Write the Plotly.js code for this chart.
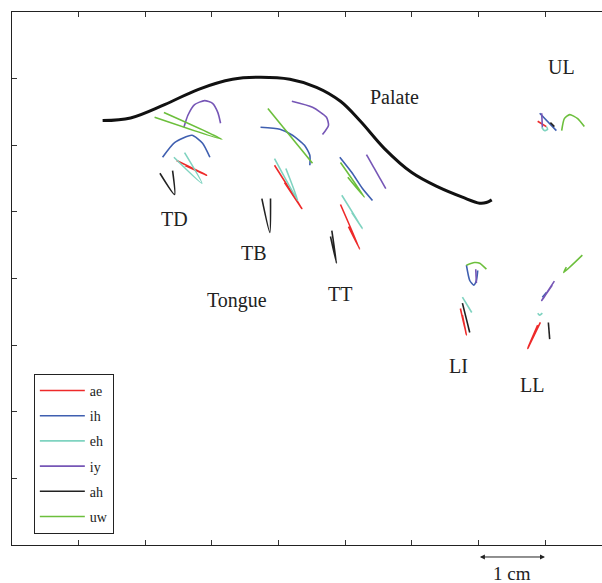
<!DOCTYPE html>
<html>
<head>
<meta charset="utf-8">
<script src="https://cdn.plot.ly/plotly-3.0.1.min.js"></script>
<style>html,body{margin:0;padding:0;background:#fff;overflow:hidden}</style>
</head>
<body>
<div id="chart" style="width:602px;height:583px"></div>
<script>
// Palate outline (cm)
const palateX = [1.36,1.78,2.29,2.80,3.31,3.71,4.17,4.57,4.93,5.23,5.59,6.00,6.40,6.76,7.02,7.12,7.20];
const palateY = [6.37,6.41,6.61,6.84,6.99,7.02,6.99,6.87,6.66,6.36,5.95,5.59,5.37,5.22,5.13,5.14,5.18];

// Vowel names and colours
const vowels = ["ae","ih","eh","iy","ah","uw"];
const vowelColors = ["#ee2a2a","#3f5fb0","#7fd3c0","#7656b6","#222222","#6cbf3c"];

// Sensor trajectories per vowel (order: TD, TB, TT, LI, LL, UL; null separates sensors)
const aeX = [2.47,2.92,2.59,null,3.94,4.35,4.09,null,4.93,5.22,5.05,null,6.73,6.82,6.76,null,7.89,7.74,7.93,null,7.89,8.02];
const aeY = [5.77,5.55,5.70,null,5.70,5.05,5.44,null,5.11,4.44,4.78,null,3.55,3.15,3.45,null,3.30,2.95,3.34,null,6.36,6.28];

const ihX = [2.26,2.44,2.70,2.86,2.97,null,3.73,4.02,4.21,4.39,4.47,4.47,null,4.92,5.10,5.26,5.41,null,6.82,6.87,6.93,6.97,6.99,null,7.96,8.02,null,7.92,8.17];
const ihY = [5.82,6.04,6.15,6.03,5.82,null,6.27,6.24,6.15,6.00,5.85,5.70,null,5.82,5.59,5.35,5.17,null,4.20,3.97,3.90,3.97,4.12,null,3.72,3.79,null,6.48,6.22];

const ehX = [2.43,2.85,2.59,null,3.94,4.29,4.11,null,4.95,5.26,5.10,null,6.76,6.90,null,7.89,7.92,7.96,null,7.95,7.99,8.04,8.02];
const ehY = [5.82,5.43,5.89,null,5.80,5.17,5.65,null,5.25,4.75,4.99,null,3.72,3.49,null,3.48,3.45,3.48,null,6.27,6.22,6.24,6.28];

const iyX = [2.58,2.64,2.74,2.89,3.01,3.09,3.13,null,4.20,4.51,4.72,4.75,4.66,null,5.32,5.61,null,6.96,6.97,null,8.14,7.95,8.11,null,7.95,7.96];
const iyY = [6.27,6.45,6.61,6.67,6.63,6.49,6.33,null,6.66,6.57,6.42,6.30,6.16,null,5.86,5.35,null,4.14,3.93,null,3.96,3.67,3.90,null,6.48,6.27];

const ahX = [2.22,2.44,2.41,null,3.75,3.87,3.88,null,4.80,4.87,4.78,null,6.76,6.87,null,8.05,8.07,null,8.08,8.14];
const ahY = [5.58,5.26,5.62,null,5.20,4.69,5.20,null,4.72,4.23,4.63,null,3.63,3.19,null,3.34,3.09,null,6.34,6.28];

const uwX = [2.14,3.15,2.28,null,3.84,4.51,null,4.93,5.29,5.04,null,6.82,6.94,7.02,7.12,null,8.56,8.28,8.32,null,8.25,8.29,8.37,8.49,8.59];
const uwY = [6.42,6.09,6.49,null,6.55,5.73,null,5.74,5.22,5.52,null,4.20,4.24,4.23,4.14,null,4.35,4.09,4.17,null,6.22,6.40,6.46,6.40,6.28];

// Region labels
const labelText = ["Palate","UL","TD","TB","Tongue","TT","LI","LL"];
const labelX = [5.74,8.25,2.44,3.63,3.37,4.92,6.70,7.81];
const labelY = [6.73,7.17,4.89,4.38,3.67,3.76,2.68,2.40];

// Axis ticks (cm)
const xTicks = [1,2,3,4,5,6,7,8];
const yTicks = [1,2,3,4,5,6,7];
// Scale bar (cm)
const scaleFrom = 7, scaleTo = 8, scaleText = "1 cm";

const seriesX = [aeX, ihX, ehX, iyX, ahX, uwX];
const seriesY = [aeY, ihY, ehY, iyY, ahY, uwY];

const traces = [{
  x: palateX, y: palateY, type: "scatter", mode: "lines",
  line: {color: "#111", width: 3, shape: "spline"}, showlegend: false, hoverinfo: "skip"
}];
vowels.forEach((v, i) => {
  traces.push({
    x: seriesX[i], y: seriesY[i], name: v, type: "scatter", mode: "lines",
    legendgroup: v,
    line: {color: vowelColors[i], width: 1.6, shape: "spline", smoothing: 0.6},
    connectgaps: false
  });
});

const serif = "Liberation Serif, Times New Roman, serif";
const annotations = labelText.map((t, i) => ({
  x: labelX[i], y: labelY[i], xref: "x", yref: "y", text: t, showarrow: false,
  font: {family: serif, size: 20, color: "#222"}
}));
annotations.push({
  x: scaleTo, y: -0.0225, xref: "x", yref: "paper",
  ax: scaleFrom, ay: 0, axref: "x", ayref: "pixel",
  showarrow: true, arrowhead: 2, arrowside: "end+start", arrowsize: 1, arrowwidth: 1,
  arrowcolor: "#222", text: ""
});
annotations.push({
  x: (scaleFrom + scaleTo) / 2, y: -0.0544, xref: "x", yref: "paper", yanchor: "middle",
  text: scaleText, showarrow: false, font: {family: serif, size: 19, color: "#222"}
});

const layout = {
  width: 602, height: 583,
  margin: {l: 12, r: 0, t: 12, b: 38},
  paper_bgcolor: "#fff", plot_bgcolor: "#fff",
  font: {family: serif, color: "#222"},
  xaxis: {
    range: [0, 8.855], tickvals: xTicks, showticklabels: false,
    ticks: "inside", ticklen: 5, tickcolor: "#333", tickwidth: 1,
    showline: true, linecolor: "#222", linewidth: 1.2, mirror: "ticks",
    showgrid: false, zeroline: false
  },
  yaxis: {
    range: [0, 8], tickvals: yTicks, showticklabels: false,
    ticks: "inside", ticklen: 5, tickcolor: "#333", tickwidth: 1,
    showline: true, linecolor: "#222", linewidth: 1.2, mirror: false,
    showgrid: false, zeroline: false
  },
  showlegend: true,
  legend: {
    x: 0.037, y: 0.321, xanchor: "left", yanchor: "top",
    bordercolor: "#222", borderwidth: 1, bgcolor: "#fff",
    font: {family: serif, size: 14, color: "#222"},
    traceorder: "grouped", tracegroupgap: 4, itemwidth: 45
  },
  annotations: annotations
};

Plotly.newPlot("chart", traces, layout, {staticPlot: true, displayModeBar: false});
</script>
</body>
</html>
